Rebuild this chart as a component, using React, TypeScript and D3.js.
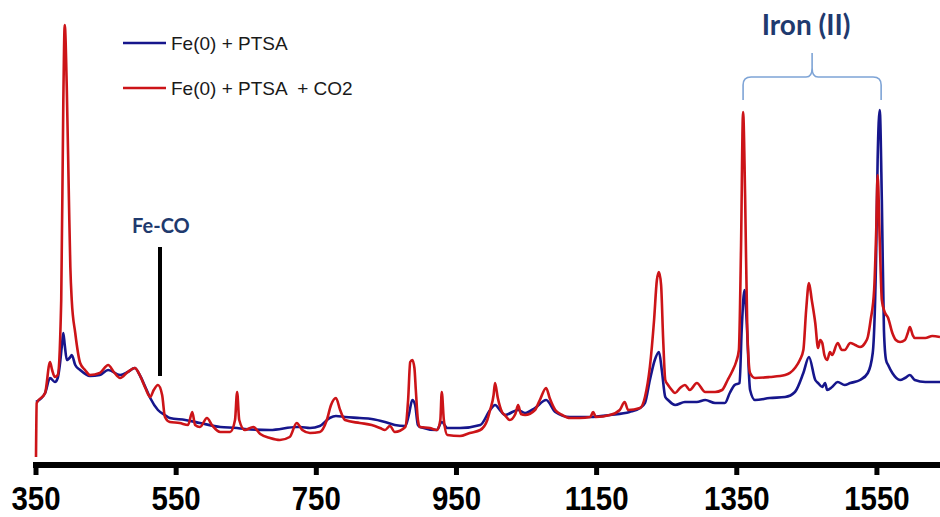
import React from "react";
import * as d3 from "d3";

const xTicks = [350, 550, 750, 950, 1150, 1350, 1550];

const blueWavenumbers = [350, 363, 370, 377, 381, 384, 387, 389, 391, 394, 399, 401, 406, 413, 427, 441, 453, 470, 481, 491, 498, 506, 513, 524, 534, 541, 563, 584, 613, 637, 648, 684, 722, 727, 741, 755, 769, 778, 791, 812, 829, 848, 862, 877, 882, 887, 891, 895, 898, 922, 929, 937, 955, 984, 998, 1005, 1012, 1019, 1038, 1048, 1062, 1078, 1091, 1112, 1141, 1169, 1197, 1212, 1219, 1226, 1233, 1239, 1243, 1248, 1252, 1262, 1276, 1293, 1305, 1319, 1333, 1340, 1347, 1354, 1357, 1361, 1364, 1369, 1376, 1397, 1419, 1433, 1445, 1453, 1462, 1466, 1472, 1476, 1479, 1486, 1494, 1504, 1512, 1526, 1537, 1544, 1549, 1551, 1554, 1557, 1560, 1563, 1566, 1572, 1583, 1590, 1597, 1604, 1619, 1640];
const blueIntensity = [63, 72, 87, 83, 87, 100, 120, 132, 120, 105, 108, 110, 100, 95, 89, 90, 95, 90, 93, 97, 90, 78, 67, 55, 50, 47, 45, 42, 38, 37, 36, 35, 38, 38, 37, 39, 47, 49, 48, 47, 46, 43, 40, 39, 50, 65, 60, 40, 38, 35, 43, 37, 37, 40, 55, 60, 55, 50, 55, 52, 57, 65, 53, 48, 48, 50, 53, 57, 62, 85, 105, 113, 95, 68, 65, 60, 63, 63, 65, 62, 62, 72, 80, 82, 135, 175, 145, 75, 65, 67, 68, 73, 92, 108, 85, 82, 78, 82, 75, 78, 83, 80, 82, 85, 92, 112, 215, 305, 355, 265, 135, 105, 100, 92, 85, 87, 90, 85, 83, 83];

const redWavenumbers = [350, 351, 363, 370, 373, 377, 381, 386, 389, 391, 394, 397, 399, 401, 406, 413, 420, 427, 441, 453, 461, 470, 481, 491, 498, 506, 513, 518, 524, 530, 534, 541, 555, 567, 573, 577, 584, 594, 601, 613, 627, 634, 637, 640, 648, 660, 670, 684, 698, 712, 722, 730, 741, 755, 765, 771, 778, 784, 791, 812, 829, 841, 848, 855, 862, 877, 881, 884, 887, 890, 892, 895, 898, 912, 922, 927, 929, 932, 937, 955, 969, 984, 994, 998, 1003, 1005, 1009, 1015, 1019, 1026, 1034, 1038, 1042, 1048, 1062, 1069, 1078, 1083, 1091, 1101, 1112, 1126, 1141, 1145, 1149, 1169, 1183, 1190, 1195, 1212, 1219, 1226, 1232, 1236, 1239, 1242, 1245, 1248, 1252, 1255, 1262, 1269, 1276, 1283, 1293, 1305, 1319, 1329, 1337, 1343, 1349, 1353, 1356, 1359, 1362, 1365, 1369, 1376, 1397, 1419, 1433, 1440, 1445, 1449, 1453, 1457, 1462, 1466, 1469, 1472, 1475, 1479, 1483, 1486, 1494, 1500, 1504, 1512, 1519, 1526, 1533, 1537, 1541, 1546, 1549, 1551, 1554, 1557, 1561, 1566, 1572, 1577, 1583, 1590, 1594, 1597, 1601, 1604, 1619, 1629, 1640];
const redIntensity = [8, 62, 72, 103, 95, 88, 90, 165, 365, 440, 375, 265, 198, 165, 132, 102, 95, 90, 92, 100, 93, 87, 93, 97, 90, 77, 68, 75, 80, 70, 48, 43, 42, 40, 53, 40, 38, 47, 40, 33, 33, 45, 73, 45, 35, 38, 31, 27, 25, 28, 42, 35, 32, 33, 45, 60, 67, 55, 45, 42, 40, 37, 35, 39, 33, 38, 65, 103, 105, 97, 75, 45, 38, 37, 35, 45, 73, 45, 30, 29, 32, 35, 45, 55, 70, 82, 67, 53, 50, 45, 51, 60, 51, 50, 55, 65, 77, 67, 55, 50, 47, 47, 48, 53, 48, 50, 55, 63, 55, 57, 68, 98, 145, 185, 193, 180, 125, 85, 80, 77, 72, 77, 80, 75, 82, 73, 73, 75, 85, 93, 103, 115, 215, 353, 265, 135, 92, 87, 88, 90, 97, 105, 115, 155, 182, 165, 142, 117, 125, 122, 110, 105, 113, 110, 122, 115, 115, 122, 120, 118, 122, 128, 145, 175, 235, 290, 225, 165, 153, 147, 132, 125, 123, 125, 132, 138, 130, 127, 127, 129, 128];

const seriesNames = ["Fe(0) + PTSA", "Fe(0) + PTSA  + CO2"];
const seriesColors = ["#16168c", "#cc1418"];

const W = 940;
const H = 517;

export default function App() {
  const x = d3.scaleLinear().domain([350, 1640]).range([36, 940]);
  const y = d3.scaleLinear().domain([0, 450]).range([465, 15]);

  const line = d3
    .line<[number, number]>()
    .x((d) => x(d[0]))
    .y((d) => y(d[1]))
    .curve(d3.curveMonotoneX);

  const blue: [number, number][] = blueWavenumbers.map((w, i) => [w, blueIntensity[i]]);
  const red: [number, number][] = redWavenumbers.map((w, i) => [w, redIntensity[i]]);

  const axisY = 465;
  const feCoX = x(524);
  const bL = x(1359);
  const bR = x(1556);
  const bC = (bL + bR) / 2;

  const bracePath = `M${bL},100 L${bL},85 Q${bL},77 ${bL + 8},77 L${bC - 6},77 Q${bC},77 ${bC},68 L${bC},53 M${bC},68 Q${bC},77 ${bC + 6},77 L${bR - 8},77 Q${bR},77 ${bR},85 L${bR},100`;

  return (
    <svg
      width={W}
      height={H}
      style={{ position: "absolute", left: 0, top: 0, background: "#fff" }}
      fontFamily="'Liberation Sans', Arial, sans-serif"
    >
      <rect width={W} height={H} fill="#fff" />
      <path d={line(blue) || ""} fill="none" stroke={seriesColors[0]} strokeWidth={2.6} strokeLinejoin="round" />
      <path d={line(red) || ""} fill="none" stroke={seriesColors[1]} strokeWidth={2.6} strokeLinejoin="round" />

      {/* axis */}
      <line x1={x(350) - 3} x2={W} y1={axisY} y2={axisY} stroke="#000" strokeWidth={6} />
      {xTicks.map((t) => (
        <g key={t}>
          <line x1={x(t)} x2={x(t)} y1={axisY} y2={axisY + 10} stroke="#000" strokeWidth={5} />
          <text
            transform={`translate(${x(t)},510) scale(0.92,1.03)`}
            textAnchor="middle"
            fontSize={32}
            fontWeight="bold"
            fill="#000"
          >
            {t}
          </text>
        </g>
      ))}

      {/* legend */}
      {seriesNames.map((n, i) => (
        <g key={n}>
          <line x1={123} x2={166} y1={43 + i * 45} y2={43 + i * 45} stroke={seriesColors[i]} strokeWidth={2.6} />
          <text x={171} y={49.5 + i * 45} fontSize={19} fill="#1a1a1a" style={{ whiteSpace: "pre" }}>
            {n}
          </text>
        </g>
      ))}

      {/* Fe-CO annotation */}
      <text x={feCoX + 3} y={233} textAnchor="middle" fontFamily="Lato, sans-serif" fontWeight="bold" fontSize={20} fill="#1f3a6e">
        Fe-CO
      </text>
      <line x1={160} x2={160} y1={247} y2={376} stroke="#000" strokeWidth={4} />

      {/* Iron (II) annotation */}
      <text x={bC - 6} y={35} textAnchor="middle" fontFamily="Lato, sans-serif" fontWeight="bold" fontSize={28} fill="#1f3a6e">
        Iron (II)
      </text>
      <path d={bracePath} fill="none" stroke="#7ea4d6" strokeWidth={1.6} />
    </svg>
  );
}
